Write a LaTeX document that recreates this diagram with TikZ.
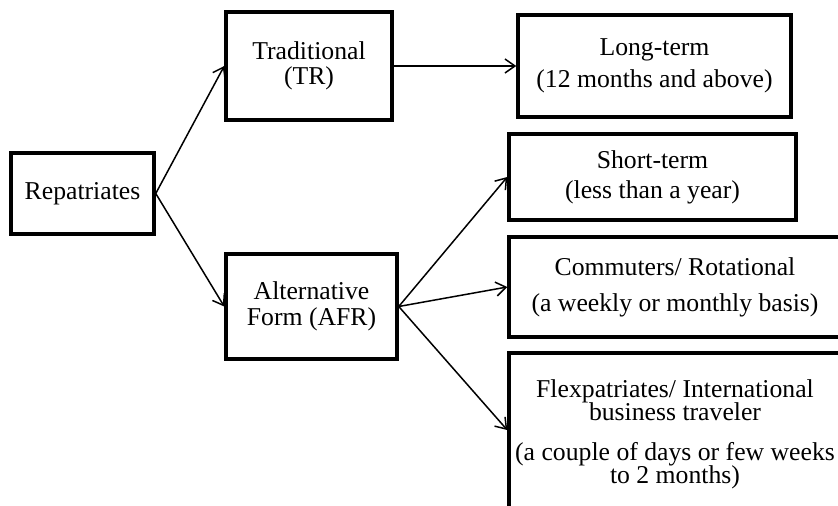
\documentclass[tikz,border=0pt]{standalone}
\usepackage{fontspec}
\setmainfont{Liberation Serif}
\usetikzlibrary{arrows.meta}
\setlength{\lineskiplimit}{-20pt}
\begin{document}
\begin{tikzpicture}[x=0.5pt,y=-0.5pt,
  box/.style={draw,line width=1.75pt,inner sep=0pt,align=center,
    font=\fontsize{12.85}{13}\selectfont},
  arr/.style={-{Straight Barb[length=5pt,width=7pt]},line width=0.75pt}]
\useasboundingbox (0,0) rectangle (838,506);
\clip (0,0) rectangle (838,506);
\node[box,minimum width=71.5pt,minimum height=40.5pt] (rep) at (82.5,193.5) {Repatriates};
\node[box,minimum width=83pt,minimum height=54pt] (tr) at (309,66) {Traditional\\[-0.5pt](TR)};
\node[box,minimum width=85.5pt,minimum height=52.5pt] (afr) at (311.5,306.5) {Alternative\\Form (AFR)};
\node[box,minimum width=136.5pt,minimum height=51pt] (lt) at (654.5,66) {Long-term\\[3pt](12 months and above)};
\node[box,minimum width=143.5pt,minimum height=43pt] (st) at (652.5,177) {Short-term\\[2pt](less than a year)};
\node[box,minimum width=166pt,minimum height=50pt] (cm) at (675,287) {Commuters/ Rotational\\[5pt](a weekly or monthly basis)};
\node[box,minimum width=166pt,minimum height=81pt,font=\fontsize{12.85}{11.5}\selectfont] (fx) at (675,434)
  {Flexpatriates/ International\\business traveler\\[8.5pt](a couple of days or few weeks\\to 2 months)};
\draw[arr] (rep.east) -- (tr.west);
\draw[arr] (rep.east) -- (afr.west);
\draw[arr] (tr.east) -- (lt.west);
\draw[arr] (afr.east) -- (st.west);
\draw[arr] (afr.east) -- (cm.west);
\draw[arr] (afr.east) -- ([yshift=2pt]fx.west);
\end{tikzpicture}
\end{document}
